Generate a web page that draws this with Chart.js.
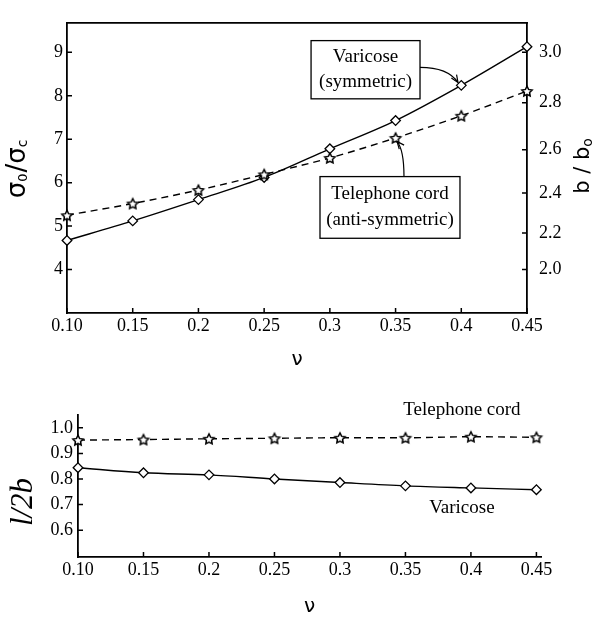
<!DOCTYPE html>
<html><head><meta charset="utf-8">
<script src="https://cdn.jsdelivr.net/npm/chart.js@4"></script>
<style>
html,body{margin:0;padding:0;background:#fff;}
#wrap{position:relative;width:595px;height:620px;overflow:hidden;}
#c1{position:absolute;left:0;top:0;}
#c2{position:absolute;left:0;top:375px;}
</style></head><body>
<div id="wrap">
<canvas id="c1" width="595" height="375"></canvas>
<canvas id="c2" width="595" height="245"></canvas>
</div>
<script>
// ---- data ----
const nu = [0.10, 0.15, 0.20, 0.25, 0.30, 0.35, 0.40, 0.45];
const nuTickLabels = ['0.10', '0.15', '0.2', '0.25', '0.3', '0.35', '0.4', '0.45'];
const stressVaricose = [4.67, 5.12, 5.61, 6.12, 6.78, 7.43, 8.24, 9.13];
const stressTelephone = [5.25, 5.52, 5.83, 6.19, 6.57, 7.03, 7.54, 8.11];
const stressTicks = [4, 5, 6, 7, 8, 9];
// right axis b/b0 (sigma0/sigmac = (b/b0)^2)
const widthTicks = [2.0, 2.2, 2.4, 2.6, 2.8, 3.0];
const ratioVaricose = [0.844, 0.824, 0.816, 0.800, 0.786, 0.773, 0.765, 0.758];
const ratioTelephone = [0.952, 0.954, 0.957, 0.959, 0.961, 0.961, 0.965, 0.963];
const ratioTicks = [0.6, 0.7, 0.8, 0.9, 1.0];
const ratioTickLabels = ['0.6', '0.7', '0.8', '0.9', '1.0'];

// ---- helpers ----
function makeStar(r) {
  const s = Math.ceil(r * 2 + 5);
  const c = document.createElement('canvas');
  c.width = s; c.height = s;
  const g = c.getContext('2d');
  g.translate(s / 2, s / 2 + 0.6);
  g.beginPath();
  for (let i = 0; i < 10; i++) {
    const rr = i % 2 ? r * 0.5 : r;
    const a = -Math.PI / 2 + i * Math.PI / 5;
    g.lineTo(rr * Math.cos(a), rr * Math.sin(a));
  }
  g.closePath();
  g.fillStyle = '#fff'; g.fill();
  g.lineWidth = 1.5; g.strokeStyle = '#000'; g.lineJoin = 'miter'; g.stroke();
  return c;
}
const starImg = makeStar(5.4);
const tickFont = {family: "'Liberation Serif', 'Times New Roman', serif", size: 18};
const serif = "'Liberation Serif', 'Times New Roman', serif";
const sans = "'DejaVu Sans', sans-serif";

const inwardTicks = {
  id: 'inwardTicks',
  afterDraw(chart) {
    const ctx = chart.ctx, a = chart.chartArea, L = 5;
    ctx.save();
    ctx.strokeStyle = '#000'; ctx.lineWidth = 1.5;
    ctx.beginPath();
    for (const id in chart.scales) {
      const s = chart.scales[id];
      s.ticks.forEach(t => {
        const p = s.getPixelForValue(t.value);
        if (s.isHorizontal()) { ctx.moveTo(p, a.bottom); ctx.lineTo(p, a.bottom - L); }
        else if (s.position === 'left') { ctx.moveTo(a.left, p); ctx.lineTo(a.left + L, p); }
        else { ctx.moveTo(a.right, p); ctx.lineTo(a.right - L, p); }
      });
    }
    ctx.stroke();
    ctx.restore();
  }
};

function drawRotated(ctx, cx, cy, parts) {
  ctx.save();
  ctx.translate(cx, cy);
  ctx.rotate(-Math.PI / 2);
  ctx.textAlign = 'left';
  ctx.textBaseline = 'alphabetic';
  ctx.fillStyle = '#000';
  let w = 0;
  parts.forEach(p => { ctx.font = p.font; p.w = ctx.measureText(p.t).width + (p.gap || 0); w += p.w; });
  let x = -w / 2;
  parts.forEach(p => { ctx.font = p.font; ctx.fillText(p.t, x, p.dy); x += p.w; });
  ctx.restore();
}

// callouts for top chart, positioned in data units
const callouts = [
  {lines: ['Varicose', '(symmetric)'], x0: 0.2857, x1: 0.3686, y0: 9.27, y1: 7.93,
   arrow: [[0.3686, 8.656], [0.3899, 8.656], [0.3975, 8.306]]},
  {lines: ['Telephone cord', '(anti-symmetric)'], x0: 0.2925, x1: 0.399, y0: 6.14, y1: 4.72,
   arrow: [[0.3564, 6.14], [0.3564, 6.753], [0.3511, 6.95]]}
];

const topDecor = {
  id: 'topDecor',
  afterDraw(chart) {
    const ctx = chart.ctx, a = chart.chartArea, xs = chart.scales.x, ys = chart.scales.y;
    ctx.save();
    // top frame line
    ctx.strokeStyle = '#000'; ctx.lineWidth = 1.8;
    ctx.beginPath(); ctx.moveTo(a.left - 0.9, a.top); ctx.lineTo(a.right + 0.9, a.top); ctx.stroke();
    // callouts
    callouts.forEach(c => {
      const l = xs.getPixelForValue(c.x0), r = xs.getPixelForValue(c.x1);
      const t = ys.getPixelForValue(c.y0), b = ys.getPixelForValue(c.y1);
      ctx.fillStyle = '#fff'; ctx.fillRect(l, t, r - l, b - t);
      ctx.lineWidth = 1.3; ctx.strokeStyle = '#000'; ctx.strokeRect(l, t, r - l, b - t);
      ctx.fillStyle = '#000'; ctx.font = '19px ' + serif; ctx.textAlign = 'center'; ctx.textBaseline = 'middle';
      ctx.fillText(c.lines[0], (l + r) / 2, t + (b - t) * 0.29);
      ctx.fillText(c.lines[1], (l + r) / 2, t + (b - t) * 0.71);
      const P = c.arrow.map(p => [xs.getPixelForValue(p[0]), ys.getPixelForValue(p[1])]);
      ctx.lineWidth = 1.2;
      ctx.beginPath(); ctx.moveTo(P[0][0], P[0][1]); ctx.quadraticCurveTo(P[1][0], P[1][1], P[2][0], P[2][1]); ctx.stroke();
      const ang = Math.atan2(P[2][1] - P[1][1], P[2][0] - P[1][0]);
      ctx.beginPath();
      ctx.moveTo(P[2][0] - 8 * Math.cos(ang - 0.4), P[2][1] - 8 * Math.sin(ang - 0.4));
      ctx.lineTo(P[2][0], P[2][1]);
      ctx.lineTo(P[2][0] - 8 * Math.cos(ang + 0.4), P[2][1] - 8 * Math.sin(ang + 0.4));
      ctx.stroke();
    });
    // y titles
    drawRotated(ctx, 18, 169, [
      {t: 'σ', font: '26px ' + sans, dy: 7},
      {t: '0', font: '13px ' + sans, dy: 9, gap: 1},
      {t: '/', font: '26px ' + sans, dy: 7},
      {t: 'σ', font: '26px ' + sans, dy: 7},
      {t: 'c', font: '14px ' + sans, dy: 9}
    ]);
    drawRotated(ctx, 582, 166, [
      {t: 'b / b', font: '21px ' + sans, dy: 7},
      {t: 'o', font: '14px ' + sans, dy: 10}
    ]);
    ctx.restore();
  }
};

const bottomLabels = [
  {text: 'Telephone cord', x: 0.3931, y: 1.0696},
  {text: 'Varicose', x: 0.3931, y: 0.6866}
];
const bottomDecor = {
  id: 'bottomDecor',
  afterDraw(chart) {
    const ctx = chart.ctx, xs = chart.scales.x, ys = chart.scales.y;
    ctx.save();
    ctx.fillStyle = '#000'; ctx.font = '19px ' + serif; ctx.textAlign = 'center'; ctx.textBaseline = 'middle';
    bottomLabels.forEach(l => ctx.fillText(l.text, xs.getPixelForValue(l.x), ys.getPixelForValue(l.y)));
    drawRotated(ctx, 21, 127, [{t: 'l/2b', font: 'italic 31px ' + serif, dy: 11}]);
    ctx.restore();
  }
};

function fixedWidth(w) { return s => { s.width = w; }; }
function fixedHeight(h) { return s => { s.height = h; }; }

// ---- top chart ----
new Chart(document.getElementById('c1'), {
  type: 'line',
  data: {
    datasets: [
      {label: 'Telephone cord (anti-symmetric)', data: nu.map((v, i) => ({x: v, y: stressTelephone[i]})),
       borderColor: '#000', borderWidth: 1.4, borderDash: [7, 5], pointStyle: starImg, pointRadius: 5,
       cubicInterpolationMode: 'monotone', fill: false, clip: false},
      {label: 'Varicose (symmetric)', data: nu.map((v, i) => ({x: v, y: stressVaricose[i]})),
       borderColor: '#000', borderWidth: 1.4, pointStyle: 'rectRot', pointRadius: 4.8,
       pointBackgroundColor: '#fff', pointBorderColor: '#000', pointBorderWidth: 1.3,
       cubicInterpolationMode: 'monotone', fill: false, clip: false}
    ]
  },
  options: {
    responsive: false, animation: false, devicePixelRatio: 1,
    layout: {padding: {top: 8, left: 0, right: 0, bottom: 0}},
    plugins: {legend: {display: false}, tooltip: {enabled: false}},
    scales: {
      x: {type: 'linear', min: 0.1, max: 0.45, afterFit: fixedHeight(62),
          afterBuildTicks: ax => { ax.ticks = nu.map(v => ({value: v})); },
          grid: {display: false, drawTicks: false}, border: {color: '#000', width: 1.8},
          ticks: {autoSkip: false, maxRotation: 0, padding: 2, color: '#000', font: tickFont,
                  callback: (v, i) => nuTickLabels[i]},
          title: {display: true, text: 'ν', color: '#000', font: {family: sans, size: 20}, padding: {top: 0, bottom: 3}}},
      y: {type: 'linear', position: 'left', min: 3.0, max: 9.68, afterFit: fixedWidth(67),
          afterBuildTicks: ax => { ax.ticks = stressTicks.map(v => ({value: v})); },
          grid: {display: false, drawTicks: false}, border: {color: '#000', width: 1.8},
          ticks: {autoSkip: false, padding: 4, color: '#000', font: tickFont, callback: v => String(v)}},
      y2: {type: 'linear', position: 'right', min: 3.0, max: 9.68, afterFit: fixedWidth(68),
          afterBuildTicks: ax => { ax.ticks = widthTicks.map(b => ({value: b * b})); },
          grid: {display: false, drawTicks: false}, border: {color: '#000', width: 1.8},
          ticks: {autoSkip: false, padding: 12, color: '#000', font: tickFont,
                  callback: (v, i) => widthTicks[i].toFixed(1)}}
    }
  },
  plugins: [inwardTicks, topDecor]
});

// ---- bottom chart ----
new Chart(document.getElementById('c2'), {
  type: 'line',
  data: {
    datasets: [
      {label: 'Telephone cord', data: nu.map((v, i) => ({x: v, y: ratioTelephone[i]})),
       borderColor: '#000', borderWidth: 1.4, borderDash: [7, 5], pointStyle: starImg, pointRadius: 5,
       cubicInterpolationMode: 'monotone', fill: false, clip: false},
      {label: 'Varicose', data: nu.map((v, i) => ({x: v, y: ratioVaricose[i]})),
       borderColor: '#000', borderWidth: 1.4, pointStyle: 'rectRot', pointRadius: 4.8,
       pointBackgroundColor: '#fff', pointBorderColor: '#000', pointBorderWidth: 1.3,
       cubicInterpolationMode: 'monotone', fill: false, clip: false}
    ]
  },
  options: {
    responsive: false, animation: false, devicePixelRatio: 1,
    layout: {padding: {top: 40, left: 0, right: 54, bottom: 0}},
    plugins: {legend: {display: false}, tooltip: {enabled: false}},
    scales: {
      x: {type: 'linear', min: 0.1, max: 0.4535, afterFit: fixedHeight(63),
          afterBuildTicks: ax => { ax.ticks = nu.map(v => ({value: v})); },
          grid: {display: false, drawTicks: false}, border: {color: '#000', width: 1.8},
          ticks: {autoSkip: false, maxRotation: 0, padding: 2, color: '#000', font: tickFont,
                  callback: (v, i) => nuTickLabels[i]},
          title: {display: true, text: 'ν', color: '#000', font: {family: sans, size: 20}, padding: {top: 0, bottom: 1}}},
      y: {type: 'linear', position: 'left', min: 0.495, max: 1.05, afterFit: fixedWidth(78),
          afterBuildTicks: ax => { ax.ticks = ratioTicks.map(v => ({value: v})); },
          grid: {display: false, drawTicks: false}, border: {color: '#000', width: 1.8},
          ticks: {autoSkip: false, padding: 5, color: '#000', font: tickFont,
                  callback: (v, i) => ratioTickLabels[i]}}
    }
  },
  plugins: [inwardTicks, bottomDecor]
});
</script>
</body></html>
